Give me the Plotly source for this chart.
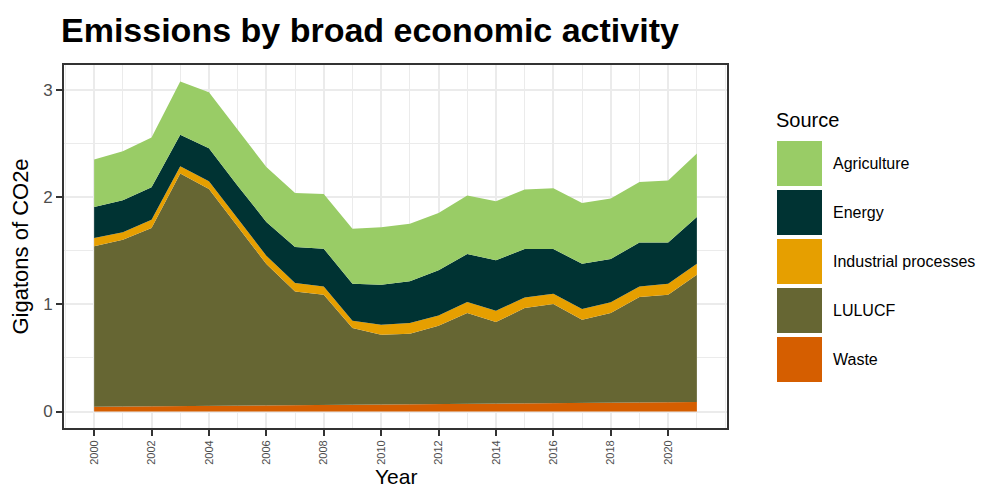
import plotly.graph_objects as go

years = list(range(2000, 2022))
sources = ["Agriculture", "Energy", "Industrial processes", "LULUCF", "Waste"]
colors = ["#99CC66", "#003333", "#E69F00", "#666633", "#D55E00"]

waste = [0.045, 0.047, 0.049, 0.051, 0.053, 0.055, 0.056, 0.057, 0.058, 0.061, 0.064,
         0.066, 0.067, 0.069, 0.071, 0.073, 0.075, 0.077, 0.080, 0.083, 0.086, 0.088]
lulucf = [1.497, 1.557, 1.664, 2.170, 2.025, 1.674, 1.321, 1.064, 1.032, 0.718, 0.653,
          0.660, 0.733, 0.850, 0.764, 0.893, 0.928, 0.780, 0.839, 0.986, 1.004, 1.189]
industrial = [0.078, 0.069, 0.078, 0.069, 0.072, 0.070, 0.078, 0.078, 0.078, 0.068, 0.093,
              0.100, 0.097, 0.103, 0.106, 0.099, 0.097, 0.099, 0.100, 0.099, 0.103, 0.103]
energy = [0.290, 0.299, 0.302, 0.293, 0.308, 0.309, 0.315, 0.337, 0.352, 0.346, 0.374,
          0.389, 0.421, 0.448, 0.470, 0.452, 0.417, 0.424, 0.405, 0.411, 0.386, 0.436]
agriculture = [0.442, 0.458, 0.465, 0.498, 0.523, 0.523, 0.513, 0.504, 0.511, 0.514, 0.536,
               0.539, 0.536, 0.546, 0.552, 0.555, 0.567, 0.567, 0.564, 0.564, 0.577, 0.592]

x_ticks = list(range(2000, 2022, 2))
y_ticks = [0, 1, 2, 3]

values = {"Agriculture": agriculture, "Energy": energy,
          "Industrial processes": industrial, "LULUCF": lulucf, "Waste": waste}
color_map = dict(zip(sources, colors))

FONT = "Liberation Sans, Arial, Helvetica, sans-serif"
# page body has an 8px margin; figure coords = screen coords - 8
OFF = 8
W, H = 985 - OFF, 492 - OFF
L, R, T, B = 64 - OFF, 727 - OFF, 65 - OFF, 428 - OFF

fig = go.Figure()
for s in reversed(sources):  # Waste at bottom
    fig.add_trace(go.Scatter(
        x=years, y=values[s], name=s, mode="lines",
        stackgroup="one", line=dict(width=0, color=color_map[s]),
        fillcolor=color_map[s], showlegend=False, hoverinfo="x+y+name"))

def px(xs):
    return (xs - OFF - L) / (R - L)

def py(ys):
    return (B - (ys - OFF)) / (B - T)

shapes = []
annotations = []
# manual legend (screen coords)
annotations.append(dict(text="Source", xref="paper", yref="paper", x=px(774), y=py(120),
                        xanchor="left", yanchor="middle", showarrow=False,
                        font=dict(family=FONT, size=20, color="#000000")))
key_top = 141
for i, s in enumerate(sources):
    y0 = key_top + i * 49
    shapes.append(dict(type="rect", xref="paper", yref="paper",
                       x0=px(777), x1=px(822), y0=py(y0 + 45), y1=py(y0),
                       fillcolor=color_map[s], line=dict(width=0)))
    annotations.append(dict(text=s, xref="paper", yref="paper", x=px(831), y=py(y0 + 22.5),
                            xanchor="left", yanchor="middle", showarrow=False,
                            font=dict(family=FONT, size=16, color="#000000")))
# axis titles
annotations.append(dict(text="Year", xref="paper", yref="paper", x=0.5, y=py(477),
                        xanchor="center", yanchor="middle", showarrow=False,
                        font=dict(family=FONT, size=21, color="#000000")))
annotations.append(dict(text="Gigatons of CO2e", xref="paper", yref="paper", x=px(20), y=0.5,
                        xanchor="center", yanchor="middle", showarrow=False, textangle=-90,
                        font=dict(family=FONT, size=22, color="#000000")))

fig.update_layout(
    width=W, height=H,
    margin=dict(l=L, r=W - R, t=T, b=H - B),
    paper_bgcolor="white", plot_bgcolor="white",
    font=dict(family=FONT),
    title=dict(text="<b>Emissions by broad economic activity</b>", x=(61 - OFF) / W, xanchor="left",
               xref="container", y=1 - (30 - OFF) / H, yanchor="middle", yref="container",
               font=dict(family=FONT, size=34, color="#000000")),
    shapes=shapes, annotations=annotations,
    showlegend=False,
)
fig.update_xaxes(
    range=[1998.95, 2022.05], tickmode="array", tickvals=x_ticks,
    ticktext=[str(v) for v in x_ticks], tickangle=-90,
    tickfont=dict(family=FONT, size=11, color="#4D4D4D"),
    ticks="outside", ticklen=6, tickcolor="#333333", tickwidth=1.6,
    showgrid=True, gridcolor="#EBEBEB", gridwidth=1.6,
    minor=dict(dtick=1, tick0=2001, showgrid=True, gridcolor="#EBEBEB", gridwidth=0.8, ticks=""),
    showline=True, linecolor="#333333", linewidth=1.8, mirror=True, zeroline=False,
)
fig.update_yaxes(
    range=[-0.154, 3.235], tickmode="array", tickvals=y_ticks,
    ticktext=[str(v) for v in y_ticks],
    tickfont=dict(family=FONT, size=17, color="#4D4D4D"),
    ticks="outside", ticklen=6, tickcolor="#333333", tickwidth=1.6,
    showgrid=True, gridcolor="#EBEBEB", gridwidth=1.6,
    minor=dict(dtick=0.5, tick0=0.5, showgrid=True, gridcolor="#EBEBEB", gridwidth=0.8, ticks=""),
    showline=True, linecolor="#333333", linewidth=1.8, mirror=True, zeroline=False,
)

fig.write_html("out.html")
